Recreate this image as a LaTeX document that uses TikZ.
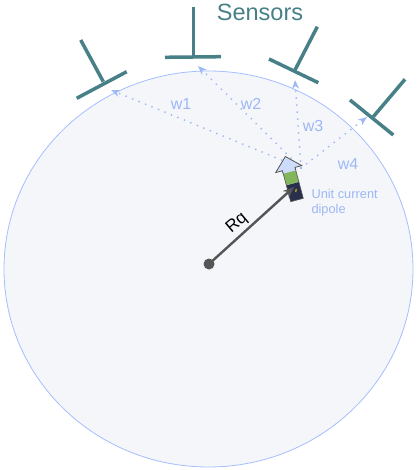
\documentclass[tikz,border=0pt]{standalone}
\usepackage{fontspec}
\setmainfont{Liberation Sans}
\usetikzlibrary{arrows.meta}

\definecolor{sensteal}{RGB}{72,128,136}
\definecolor{wblue}{RGB}{158,184,245}
\definecolor{headrim}{RGB}{166,190,255}
\definecolor{headfill}{RGB}{244,246,250}
\definecolor{dipnavy}{RGB}{40,48,78}
\definecolor{dipgreen}{RGB}{130,182,90}
\definecolor{diptip}{RGB}{205,220,250}
\definecolor{rqgray}{RGB}{85,85,85}

\tikzset{
  sensor/.style={sensteal, line width=3.5pt, line cap=butt},
  weight/.style={wblue, line width=2pt, line cap=round, dash pattern=on 0pt off 7pt,
    -{Stealth[length=9pt,width=7pt]}},
  wlab/.style={wblue, font=\fontsize{16}{18}\selectfont},
}

\begin{document}
\begin{tikzpicture}[x=1pt, y=-1pt]
\useasboundingbox (0,0) rectangle (417,470);

% Kopf
\draw[headrim, fill=headfill, line width=0.8pt] (208.5,269) ellipse (204.5 and 198);

% Punkte
\coordinate (c)  at (209,264);
\coordinate (q0) at (301,168);
\coordinate (t1) at (111,90);
\coordinate (t2) at (198,66);
\coordinate (t3) at (295,80);
\coordinate (t4) at (367,117);

% Sensoren
\foreach \sx/\sy/\bx/\by/\lx/\ly/\rx/\ry in {
    80.7/40/103.3/81.7/76.7/98.3/126.7/71.7,
    193.3/6.7/193.3/56.7/165/57.3/221/56.7,
    317.3/26.7/295/70/269/59/318.3/82.7,
    405/79.3/373.3/116.7/350/100/393.3/135} {
    \draw[sensor] (\sx,\sy) -- (\bx,\by);
    \draw[sensor] (\lx,\ly) -- (\rx,\ry);
}
\node[sensteal, font=\fontsize{23.5}{26}\selectfont] (sens) at (260,12) {Sensors};

% Gewichte
\foreach \i in {1,2,3,4} {
    \draw[weight] (q0) -- (t\i);
}
\node[wlab] (w1) at (181,104) {w1};
\node[wlab] (w2) at (251,104) {w2};
\node[wlab] (w3) at (313,126) {w3};
\node[wlab] (w4) at (348,164) {w4};

% Dipol
\begin{scope}[shift={(297,200)}, rotate=15]
  \fill[dipnavy] (-6.5,0) rectangle (6.5,-17);
  \fill[dipgreen] (-6.5,-17) rectangle (6.5,-31);
  \draw[yellow!70!orange, line width=1pt] (1,-8) -- (2,-11);
  \draw[rqgray, line width=0.6pt] (-6.5,0) rectangle (6.5,-31);
  \draw[fill=diptip, draw=rqgray, line width=0.8pt]
    (-6.5,-29) -- (-6.5,-32) -- (-13.5,-32) -- (0,-45) -- (13.5,-32)
    -- (6.5,-32) -- (6.5,-29);
\end{scope}
\node[wblue, font=\fontsize{12.8}{15}\selectfont, align=left, anchor=north west]
  (dip) at (308,186) {Unit current\\dipole};

% Rq
\coordinate (q) at (294,187);
\fill[rqgray] (c) circle (5.5);
\draw[rqgray, line width=2.4pt, -{Stealth[length=11pt,width=9pt]}] (c) -- (q);
\node[font=\fontsize{17}{19}\selectfont, rotate=40] (rq) at (237,223) {Rq};
\end{tikzpicture}
\end{document}
